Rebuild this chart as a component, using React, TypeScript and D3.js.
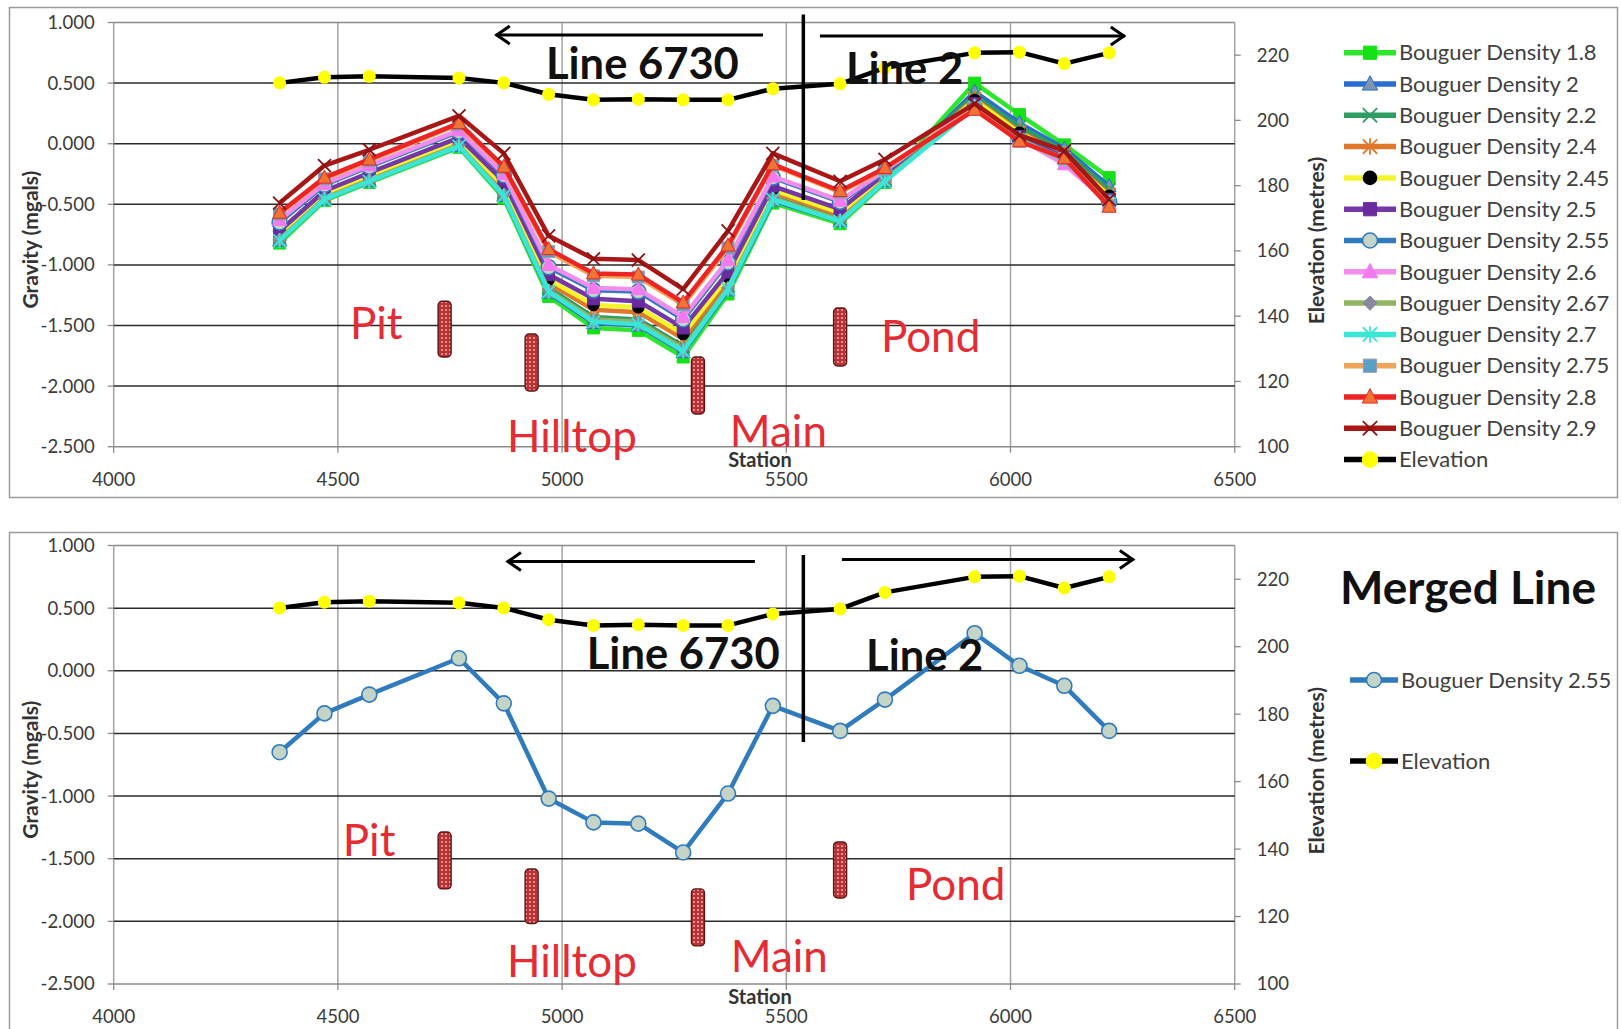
import React from "react";
import * as d3 from "d3";

// ---------- DATA ----------
const stations = [4370, 4470, 4570, 4770, 4870, 4970, 5070, 5170, 5270, 5370, 5470, 5620, 5720, 5920, 6020, 6120, 6220];
const elevation = [211.5, 213.2, 213.5, 213.0, 211.5, 208.0, 206.3, 206.5, 206.3, 206.3, 209.7, 211.2, 216.1, 220.7, 220.9, 217.4, 220.7];

const bd18 = [-0.82, -0.47, -0.32, -0.03, -0.45, -1.26, -1.52, -1.54, -1.76, -1.24, -0.49, -0.66, -0.32, 0.5, 0.24, -0.01, -0.28];
const bd20 = [-0.8, -0.46, -0.31, -0.02, -0.43, -1.23, -1.48, -1.5, -1.72, -1.21, -0.47, -0.64, -0.31, 0.43, 0.17, -0.04, -0.35];
const bd22 = [-0.77, -0.44, -0.29, 0.0, -0.4, -1.19, -1.43, -1.45, -1.67, -1.17, -0.44, -0.62, -0.29, 0.4, 0.14, -0.06, -0.38];
const bd24 = [-0.75, -0.42, -0.27, 0.02, -0.37, -1.15, -1.37, -1.39, -1.61, -1.13, -0.4, -0.59, -0.27, 0.37, 0.1, -0.09, -0.42];
const bd245 = [-0.74, -0.41, -0.26, 0.03, -0.35, -1.12, -1.33, -1.35, -1.57, -1.1, -0.38, -0.57, -0.26, 0.36, 0.09, -0.1, -0.43];
const bd25 = [-0.72, -0.39, -0.24, 0.05, -0.31, -1.08, -1.28, -1.3, -1.52, -1.06, -0.35, -0.54, -0.25, 0.33, 0.06, -0.11, -0.46];
const bd255 = [-0.65, -0.34, -0.19, 0.1, -0.26, -1.02, -1.21, -1.22, -1.45, -0.98, -0.28, -0.48, -0.23, 0.3, 0.04, -0.12, -0.48];
const bd26 = [-0.63, -0.33, -0.18, 0.11, -0.25, -1.0, -1.19, -1.2, -1.43, -0.96, -0.27, -0.47, -0.22, 0.31, 0.04, -0.17, -0.49];
const bd267 = [-0.79, -0.45, -0.3, -0.01, -0.42, -1.21, -1.45, -1.47, -1.69, -1.19, -0.45, -0.63, -0.3, 0.3, 0.03, -0.13, -0.5];
const bd27 = [-0.8, -0.46, -0.31, -0.02, -0.43, -1.22, -1.47, -1.49, -1.71, -1.2, -0.46, -0.64, -0.31, 0.3, 0.03, -0.13, -0.5];
const bd275 = [-0.58, -0.29, -0.14, 0.16, -0.2, -0.89, -1.09, -1.1, -1.33, -0.86, -0.18, -0.4, -0.21, 0.29, 0.02, -0.12, -0.51];
const bd28 = [-0.57, -0.28, -0.13, 0.17, -0.19, -0.87, -1.07, -1.08, -1.31, -0.84, -0.17, -0.39, -0.2, 0.28, 0.02, -0.12, -0.52];
const bd29 = [-0.49, -0.18, -0.05, 0.23, -0.08, -0.76, -0.95, -0.96, -1.2, -0.72, -0.08, -0.31, -0.13, 0.33, 0.07, -0.06, -0.46];

const gravityTicks = [-2.5, -2, -1.5, -1, -0.5, 0, 0.5, 1];
const elevationTicks = [100, 120, 140, 160, 180, 200, 220];
const stationTicks = [4000, 4500, 5000, 5500, 6000, 6500];

// annotations (data units: station, gravity)
const sitesTop = [
  { name: "Pit", bar: [4738, -1.3, -1.76], label: [4527, -1.611] },
  { name: "Hilltop", bar: [4932, -1.57, -2.04], label: [4877, -2.543] },
  { name: "Main", bar: [5303, -1.76, -2.23], label: [5374, -2.502] },
  { name: "Pond", bar: [5620, -1.356, -1.834], label: [5711, -1.719] },
];
const sitesBottom = [
  { name: "Pit", bar: [4738, -1.287, -1.741], label: [4511, -1.476] },
  { name: "Hilltop", bar: [4932, -1.582, -2.017], label: [4877, -2.444] },
  { name: "Main", bar: [5303, -1.741, -2.196], label: [5376, -2.404] },
  { name: "Pond", bar: [5620, -1.366, -1.813], label: [5767, -1.829] },
];
const linesTop = { divider: [5538, 1.066, -0.464], left: [4852, 5448, 0.897], right: [5575, 6255, 0.889], l6730: [4964, 0.534], l2: [5633, 0.493] };
const linesBottom = { divider: [5538, 0.924, -0.568], left: [4877, 5430, 0.872], right: [5624, 6275, 0.888], l6730: [5055, 0.014], l2: [5678, -0.002] };

// ---------- STYLE ----------
const FONT = "Lato, 'Open Sans', sans-serif";
const series = [
  { name: "Bouguer Density 1.8", v: bd18, line: "#2ee62e", m: "square", fill: "#16e016", stroke: "#16e016" },
  { name: "Bouguer Density 2", v: bd20, line: "#2a6cd2", m: "triangle", fill: "#7c95ae", stroke: "#2a6cd2" },
  { name: "Bouguer Density 2.2", v: bd22, line: "#2f9c64", m: "x", fill: "none", stroke: "#2f9c64" },
  { name: "Bouguer Density 2.4", v: bd24, line: "#e0782c", m: "asterisk", fill: "none", stroke: "#e0782c" },
  { name: "Bouguer Density 2.45", v: bd245, line: "#f4f42a", m: "circle", fill: "#000000", stroke: "#000000" },
  { name: "Bouguer Density 2.5", v: bd25, line: "#7536a6", m: "square", fill: "#6a2a9e", stroke: "#6a2a9e" },
  { name: "Bouguer Density 2.55", v: bd255, line: "#2f7bbd", m: "circle", fill: "#c4d4c6", stroke: "#2f7bbd" },
  { name: "Bouguer Density 2.6", v: bd26, line: "#f28ced", m: "triangle", fill: "#f478ee", stroke: "#f478ee" },
  { name: "Bouguer Density 2.67", v: bd267, line: "#93b562", m: "diamond", fill: "#8888a0", stroke: "#8888a0" },
  { name: "Bouguer Density 2.7", v: bd27, line: "#3ce6d6", m: "asterisk", fill: "none", stroke: "#3ce6d6" },
  { name: "Bouguer Density 2.75", v: bd275, line: "#f0a458", m: "square", fill: "#58a0c6", stroke: "#9a9aa8" },
  { name: "Bouguer Density 2.8", v: bd28, line: "#ec2424", m: "triangle", fill: "#f07434", stroke: "#ec2424" },
  { name: "Bouguer Density 2.9", v: bd29, line: "#a81616", m: "x", fill: "none", stroke: "#8a1212" },
];

const X0 = 113.7;
const X1 = 1234.7;
const x = d3.scaleLinear().domain([4000, 6500]).range([X0, X1]);

function markerD(t: string, s = 1) {
  switch (t) {
    case "square":
      return `M${-6 * s},${-6 * s}h${12 * s}v${12 * s}h${-12 * s}Z`;
    case "triangle":
      return `M0,${-7.5 * s}L${7 * s},${5.5 * s}L${-7 * s},${5.5 * s}Z`;
    case "diamond":
      return `M0,${-6.5 * s}L${6.5 * s},0L0,${6.5 * s}L${-6.5 * s},0Z`;
    case "x":
      return `M${-6.5 * s},${-6.5 * s}L${6.5 * s},${6.5 * s}M${-6.5 * s},${6.5 * s}L${6.5 * s},${-6.5 * s}`;
    case "asterisk":
      return `M${-6.5 * s},${-6.5 * s}L${6.5 * s},${6.5 * s}M${-6.5 * s},${6.5 * s}L${6.5 * s},${-6.5 * s}M0,${-7.5 * s}L0,${7.5 * s}`;
    default:
      return "";
  }
}

function Marker({ t, cx, cy, fill, stroke, r = 5.5, s = 1 }: any) {
  if (t === "circle")
    return <circle cx={cx} cy={cy} r={r} fill={fill} stroke={stroke} strokeWidth={1.6} />;
  const open = t === "x" || t === "asterisk";
  return (
    <path
      transform={`translate(${cx},${cy})`}
      d={markerD(t, s)}
      fill={open ? "none" : fill}
      stroke={stroke}
      strokeWidth={open ? 1.8 : 1}
    />
  );
}

const fmt = (v: number) => d3.format(".3f")(v).replace("\u2212", "-");

function Panel({ yTop, yBot, shown, sites, ann, legend }: any) {
  const y = d3.scaleLinear().domain([-2.5, 1]).range([yBot, yTop]);
  const yE = d3.scaleLinear().domain([100, 230]).range([yBot, yTop]);
  const idx = stations.map((_, i) => i);
  const lineG = (vals: number[]) =>
    d3.line<number>().x((i) => x(stations[i])).y((i) => y(vals[i]))(idx) as string;
  const lineE = d3.line<number>().x((i) => x(stations[i])).y((i) => yE(elevation[i]))(idx) as string;
  const textCol = "#3a3a3a";
  return (
    <g>
      {/* vertical gridlines */}
      {stationTicks.map((t) => (
        <line key={"vg" + t} x1={x(t)} x2={x(t)} y1={yTop} y2={yBot} stroke="#a3a3a3" strokeWidth={1.5} />
      ))}
      {/* horizontal gridlines */}
      {gravityTicks.map((t) => (
        <line
          key={"hg" + t}
          x1={X0}
          x2={X1}
          y1={y(t)}
          y2={y(t)}
          stroke={t === 1 || t === -2.5 ? "#8a8a8a" : "#2a2a2a"}
          strokeWidth={1.5}
        />
      ))}
      {/* axis ticks */}
      {gravityTicks.map((t) => (
        <line key={"lt" + t} x1={X0 - 6} x2={X0} y1={y(t)} y2={y(t)} stroke="#8a8a8a" strokeWidth={1.3} />
      ))}
      {elevationTicks.map((t) => (
        <line key={"rt" + t} x1={X1} x2={X1 + 6} y1={yE(t)} y2={yE(t)} stroke="#8a8a8a" strokeWidth={1.3} />
      ))}
      {stationTicks.map((t) => (
        <line key={"bt" + t} x1={x(t)} x2={x(t)} y1={yBot} y2={yBot + 6} stroke="#8a8a8a" strokeWidth={1.3} />
      ))}
      {/* tick labels */}
      {gravityTicks.map((t) => (
        <text key={"ll" + t} x={X0 - 19} y={y(t)} dy="0.35em" textAnchor="end" fontSize={18.5} fill={textCol} fontFamily={FONT}>
          {fmt(t)}
        </text>
      ))}
      {elevationTicks.map((t) => (
        <text key={"rl" + t} x={X1 + 22} y={yE(t)} dy="0.35em" textAnchor="start" fontSize={18.5} fill={textCol} fontFamily={FONT}>
          {t}
        </text>
      ))}
      {stationTicks.map((t) => (
        <text key={"bl" + t} x={x(t)} y={yBot + 33} dy="0.35em" textAnchor="middle" fontSize={18.5} fill={textCol} fontFamily={FONT}>
          {t}
        </text>
      ))}
      {/* axis titles */}
      <text
        transform={`translate(31,${(yTop + yBot) / 2 + 5}) rotate(-90)`}
        textAnchor="middle"
        dy="0.35em"
        fontSize={21}
        fontWeight="bold"
        fill="#333"
        fontFamily={FONT}
      >
        Gravity (mgals)
      </text>
      <text
        transform={`translate(1317,${(yTop + yBot) / 2 + 6}) rotate(-90)`}
        textAnchor="middle"
        dy="0.35em"
        fontSize={21}
        fontWeight="bold"
        fill="#333"
        fontFamily={FONT}
      >
        Elevation (metres)
      </text>
      <text x={760} y={yBot + 13} dy="0.35em" textAnchor="middle" fontSize={20} fontWeight="bold" fill="#333" fontFamily={FONT}>
        Station
      </text>

      {/* site bars */}
      {sites.map((s: any) => {
        const cx = x(s.bar[0]);
        const y0 = y(s.bar[1]);
        const y1 = y(s.bar[2]);
        return (
          <rect
            key={"bar" + s.name}
            x={cx - 6.5}
            y={y0}
            width={13}
            height={y1 - y0}
            rx={4}
            fill="url(#hatch)"
            stroke="#5a1414"
            strokeWidth={1.4}
          />
        );
      })}
      {sites.map((s: any) => (
        <text
          key={"lab" + s.name}
          x={x(s.label[0])}
          y={y(s.label[1])}
          fontSize={44}
          fill="#e52b33"
          fontFamily={FONT}
        >
          {s.name}
        </text>
      ))}

      {/* gravity series */}
      {shown.map((s: any) => (
        <g key={s.name}>
          <path d={lineG(s.v)} fill="none" stroke={s.line} strokeWidth={4.5} strokeLinejoin="round" />
          {s.v.map((v: number, i: number) => (
            <Marker key={i} t={s.m} cx={x(stations[i])} cy={y(v)} fill={s.fill} stroke={s.stroke} r={s.m === "circle" && s.fill !== "#000000" ? 7.5 : 5.5} />
          ))}
        </g>
      ))}

      {/* elevation */}
      <path d={lineE} fill="none" stroke="#000" strokeWidth={4.5} strokeLinejoin="round" />
      {elevation.map((v, i) => (
        <circle key={"e" + i} cx={x(stations[i])} cy={yE(v)} r={6.5} fill="#ffff00" />
      ))}

      {/* line annotations */}
      <line x1={x(ann.divider[0])} x2={x(ann.divider[0])} y1={y(ann.divider[1])} y2={y(ann.divider[2])} stroke="#000" strokeWidth={3.5} />
      <line x1={x(ann.left[0])} x2={x(ann.left[1])} y1={y(ann.left[2])} y2={y(ann.left[2])} stroke="#000" strokeWidth={3} />
      <path
        d={`M${x(ann.left[0]) + 14},${y(ann.left[2]) - 9}L${x(ann.left[0]) + 1},${y(ann.left[2])}L${x(ann.left[0]) + 14},${y(ann.left[2]) + 9}`}
        fill="none"
        stroke="#000"
        strokeWidth={3}
      />
      <line x1={x(ann.right[0])} x2={x(ann.right[1])} y1={y(ann.right[2])} y2={y(ann.right[2])} stroke="#000" strokeWidth={3} />
      <path
        d={`M${x(ann.right[1]) - 14},${y(ann.right[2]) - 9}L${x(ann.right[1]) - 1},${y(ann.right[2])}L${x(ann.right[1]) - 14},${y(ann.right[2]) + 9}`}
        fill="none"
        stroke="#000"
        strokeWidth={3}
      />
      <text x={x(ann.l6730[0])} y={y(ann.l6730[1])} fontSize={43.5} fontWeight="bold" fill="#111" fontFamily={FONT}>
        Line 6730
      </text>
      <text x={x(ann.l2[0])} y={y(ann.l2[1])} fontSize={43.5} fontWeight="bold" fill="#111" fontFamily={FONT}>
        Line 2
      </text>

      {legend}
    </g>
  );
}

function LegendRow({ yy, s, x0, x1, tx }: any) {
  return (
    <g>
      <line x1={x0} x2={x1} y1={yy} y2={yy} stroke={s.line} strokeWidth={5.5} />
      <Marker t={s.m} cx={(x0 + x1) / 2} cy={yy} fill={s.fill} stroke={s.stroke} r={s.m === "circle" && s.fill !== "#000000" ? 7.5 : 6.5} s={1.1} />
      <text x={tx} y={yy} dy="0.35em" fontSize={22} fill="#404040" fontFamily={FONT}>
        {s.name}
      </text>
    </g>
  );
}

export default function App() {
  const elevSeries = { name: "Elevation", line: "#000", m: "circle", fill: "#ffff00", stroke: "#ffff00" };
  const topLegend = (
    <g>
      {[...series, elevSeries].map((s, i) => (
        <LegendRow key={s.name} yy={52.7 + i * 31.3} s={s} x0={1344} x1={1396} tx={1399} />
      ))}
    </g>
  );
  const s255 = series[6];
  const bottomLegend = (
    <g>
      <text x={1340} y={604} fontSize={46} fontWeight="bold" fill="#111" fontFamily={FONT}>
        Merged Line
      </text>
      <LegendRow yy={680} s={s255} x0={1350} x1={1398} tx={1401} />
      <LegendRow yy={761} s={elevSeries} x0={1350} x1={1398} tx={1401} />
    </g>
  );
  return (
    <svg
      width={1621}
      height={1029}
      style={{ position: "absolute", left: 0, top: 0, background: "#fff" }}
      xmlns="http://www.w3.org/2000/svg"
    >
      <defs>
        <pattern id="hatch" width={4} height={4} patternUnits="userSpaceOnUse">
          <rect width={4} height={4} fill="#b83236" />
          <circle cx={2} cy={2} r={0.9} fill="#f2b8b8" />
        </pattern>
      </defs>
      <rect x={0} y={0} width={1621} height={1029} fill="#fff" />
      <rect x={9.5} y={7.5} width={1608} height={490} fill="#fff" stroke="#9a9a9a" strokeWidth={1.5} />
      <rect x={9.5} y={532.5} width={1608} height={520} fill="#fff" stroke="#9a9a9a" strokeWidth={1.5} />
      <Panel yTop={22.5} yBot={446.7} shown={series} sites={sitesTop} ann={linesTop} legend={topLegend} />
      <Panel yTop={545.5} yBot={984} shown={[s255]} sites={sitesBottom} ann={linesBottom} legend={bottomLegend} />
    </svg>
  );
}
